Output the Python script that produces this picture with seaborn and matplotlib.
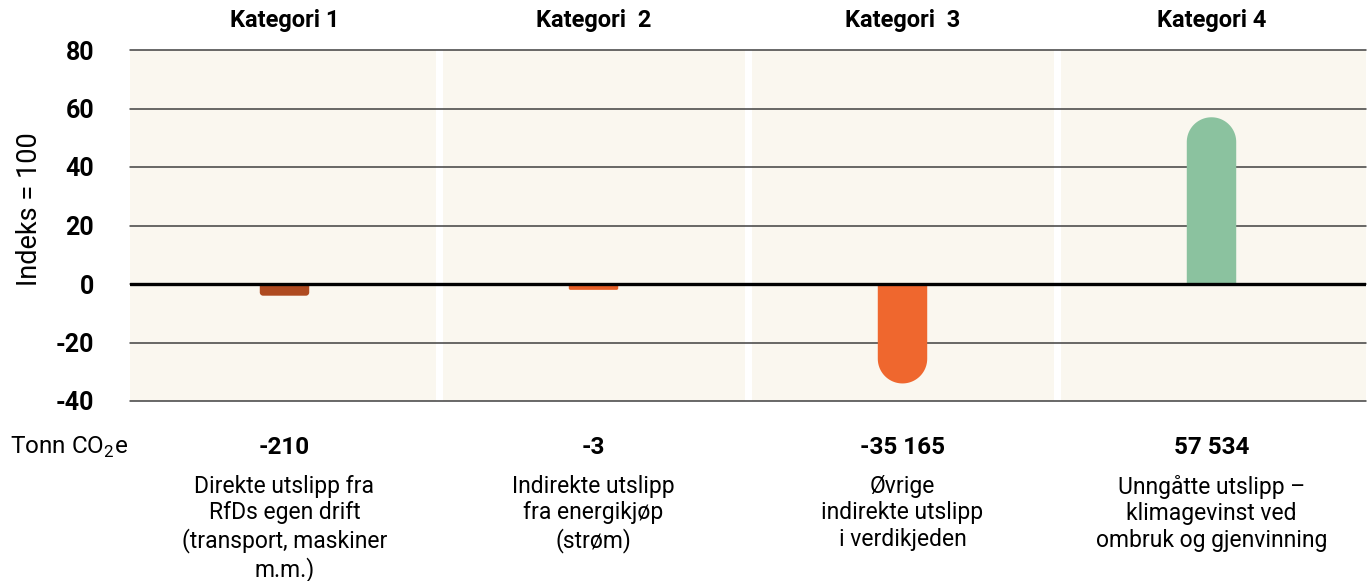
import matplotlib.pyplot as plt
import numpy as np
import pandas as pd
import seaborn as sns
from matplotlib.patches import Polygon

categories = ["Kategori 1", "Kategori  2", "Kategori  3", "Kategori 4"]
index_values = [-4, -2, -34, 57]
tonnes = ["-210", "-3", "-35 165", "57 534"]
descriptions = [
    "Direkte utslipp fra\nRfDs egen drift\n(transport, maskiner\nm.m.)",
    "Indirekte utslipp\nfra energikjøp\n(strøm)",
    "Øvrige\nindirekte utslipp\ni verdikjeden",
    "Unngåtte utslipp –\nklimagevinst ved\nombruk og gjenvinning",
]
bar_colors = ["#AE4A20", "#E55F27", "#EF672E", "#8BC29F"]
y_ticks = [-40, -20, 0, 20, 40, 60, 80]

FONT = ["Roboto", "DejaVu Sans"]
PANEL = "#FAF7EF"

sns.set_style("white")
plt.rcParams['font.family'] = FONT
plt.rcParams['text.color'] = 'black'
plt.rcParams['xtick.color'] = 'black'
plt.rcParams['ytick.color'] = 'black'


def rounded_bar(x0, w, h, rx, ry, n=24):
    # bar from 0 to h, square at the base and rounded at the tip
    s = 1 if h >= 0 else -1
    cy = h - s * ry
    t = np.linspace(np.pi, np.pi / 2, n)
    left = np.c_[x0 + rx + rx * np.cos(t), cy + s * ry * np.sin(t)]
    t = np.linspace(np.pi / 2, 0, n)
    right = np.c_[x0 + w - rx + rx * np.cos(t), cy + s * ry * np.sin(t)]
    return np.vstack([[x0, 0], left, right, [x0 + w, 0]])


W, H = 1370, 581
fig = plt.figure(figsize=(W / 100, H / 100), dpi=100)
ax = fig.add_axes([130 / W, 1 - 401 / H, 1236 / W, 351 / H])

df = pd.DataFrame({"kategori": categories, "indeks": index_values})
sns.barplot(data=df, x="kategori", y="indeks", hue="kategori", palette=bar_colors,
            saturation=1, width=0.16, legend=False, ax=ax, zorder=3)
ax.set_xlim(-0.5, len(categories) - 0.5)
ax.set_ylim(-40, 80)
bars = list(ax.patches)

# swap the plain rectangles for bars with rounded ends
p0 = ax.transData.transform((0, 0))
p1 = ax.transData.transform((1, 1))
sx, sy = p1 - p0
for bar in bars:
    x0, w, h = bar.get_x(), bar.get_width(), bar.get_height()
    r_px = min(w * sx / 2, abs(h) * sy / 3.5)
    verts = rounded_bar(x0, w, h, r_px / sx, r_px / sy)
    ax.add_patch(Polygon(verts, closed=True, fc=bar.get_facecolor(), lw=0, zorder=3))
    bar.set_visible(False)

# background panels per category
gap = 3.5 / sx
n = len(categories)
for i in range(n):
    left = i - 0.5 + (gap if i > 0 else 0)
    right = i + 0.5 - (gap if i < n - 1 else 0)
    ax.axvspan(left, right, color=PANEL, lw=0, zorder=0)

for t in y_ticks:
    ax.axhline(t, color="#404040", lw=1.1, zorder=1, clip_on=False)
ax.axhline(0, color="black", lw=2.4, zorder=4)

sns.despine(ax=ax, left=True, bottom=True, top=True, right=True)
ax.set_yticks(y_ticks)
ax.set_yticklabels([str(t) for t in y_ticks], fontsize=18, fontweight="bold")
ax.tick_params(axis="y", length=0, pad=26)
ax.xaxis.tick_top()
ax.set_xticks(range(n))
ax.set_xticklabels(categories, fontsize=17, fontweight="bold")
ax.tick_params(axis="x", length=0, pad=13)
ax.set_xlabel("")
ax.set_ylabel("")

trans = ax.get_xaxis_transform()
for i in range(n):
    ax.text(i, (401 - 447) / 351, tonnes[i], transform=trans, ha="center", va="center",
            fontsize=17.5, fontweight="bold")
    ax.text(i, (401 - 475) / 351, descriptions[i], transform=trans, ha="center", va="top",
            fontsize=16.5, linespacing=1.19)

fig.text(10 / W, 1 - 447 / H, r"Tonn CO$_\mathregular{2}$e", ha="left", va="center", fontsize=17.5)
fig.text(30 / W, 1 - 209 / H, "Indeks = 100", rotation=90, ha="center", va="center",
         fontsize=19.5)

fig.savefig("out.png", dpi=100)
